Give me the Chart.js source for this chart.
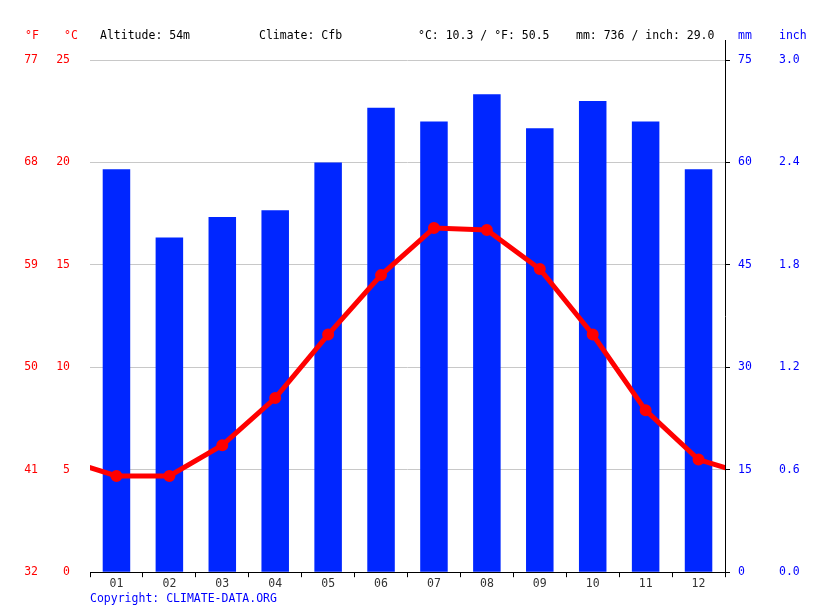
<!DOCTYPE html>
<html>
<head>
<meta charset="utf-8">
<script src="https://cdn.jsdelivr.net/npm/chart.js@4"></script>
<style>
  html, body { margin: 0; padding: 0; background: #fff; }
  #wrap { width: 815px; height: 611px; }
</style>
</head>
<body>
<div id="wrap"><canvas id="c" width="815" height="611"></canvas></div>
<script>
// Monthly climate values
const months = ['01', '02', '03', '04', '05', '06', '07', '08', '09', '10', '11', '12'];
const precipMm = [59, 49, 52, 53, 60, 68, 66, 70, 65, 69, 66, 59];
const tempC = [4.7, 4.7, 6.2, 8.5, 11.6, 14.5, 16.8, 16.7, 14.8, 11.6, 7.9, 5.5];

// Header texts
const headerItems = [
    { text: '°F', x: 25, color: '#ff0000' },
    { text: '°C', x: 64, color: '#ff0000' },
    { text: 'Altitude: 54m', x: 100, color: '#000' },
    { text: 'Climate: Cfb', x: 259, color: '#000' },
    { text: '°C: 10.3 / °F: 50.5', x: 418, color: '#000' },
    { text: 'mm: 736 / inch: 29.0', x: 576, color: '#000' },
    { text: 'mm', x: 738, color: '#0000ff' },
    { text: 'inch', x: 779, color: '#0000ff' },
];
const copyright = 'Copyright: CLIMATE-DATA.ORG';

const FONT = "'DejaVu Sans Mono', monospace";
const RED = '#ff0000';
const BLUE = '#0026ff';

// Line wraps around: December before January, January after December
const linePoints = [{ x: -0.5, y: tempC[11] }]
    .concat(tempC.map((v, i) => ({ x: i + 0.5, y: v })))
    .concat([{ x: 12.5, y: tempC[0] }]);

const headerPlugin = {
    id: 'header',
    afterDraw(chart) {
        const { ctx, chartArea } = chart;
        ctx.save();
        ctx.font = `11.5px ${FONT}`;
        ctx.textBaseline = 'middle';
        ctx.textAlign = 'left';
        headerItems.forEach(h => {
            ctx.fillStyle = h.color;
            ctx.fillText(h.text, h.x, 36);
        });
        ctx.fillStyle = '#0000ff';
        ctx.fillText(copyright, 90, 599);
        // right axis line runs up into the header
        ctx.strokeStyle = '#000';
        ctx.lineWidth = 1;
        ctx.beginPath();
        ctx.moveTo(Math.round(chartArea.right) + 0.5, 40);
        ctx.lineTo(Math.round(chartArea.right) + 0.5, chartArea.top);
        ctx.stroke();
        ctx.restore();
    }
};

const fixWidth = w => scale => { scale.width = w; };

new Chart(document.getElementById('c'), {
    data: {
        labels: months,
        datasets: [
            {
                type: 'line',
                data: linePoints,
                xAxisID: 'xl',
                yAxisID: 'yC',
                borderColor: RED,
                backgroundColor: RED,
                borderWidth: 5,
                pointRadius: linePoints.map((p, i) => (i === 0 || i === linePoints.length - 1) ? 0 : 3.5),
                pointHoverRadius: 3.5,
                tension: 0,
                clip: 0,
                order: 0,
            },
            {
                type: 'bar',
                data: precipMm,
                xAxisID: 'x',
                yAxisID: 'yMM',
                backgroundColor: BLUE,
                grouped: false,
                barPercentage: 0.52,
                categoryPercentage: 1,
                order: 1,
            },
        ],
    },
    options: {
        responsive: false,
        animation: false,
        layout: { padding: { top: 60, bottom: 20, left: 0, right: 0 } },
        plugins: { legend: { display: false }, tooltip: { enabled: false } },
        scales: {
            x: {
                type: 'category',
                offset: true,
                grid: { offset: true, drawOnChartArea: false, color: '#000', tickLength: 5 },
                border: { color: '#000' },
                ticks: { color: '#333', font: { family: FONT, size: 11.5 }, padding: 0, maxRotation: 0 },
            },
            xl: { type: 'linear', min: 0, max: 12, display: false },
            yC: {
                position: 'left', weight: 0,
                min: 0, max: 25,
                ticks: { stepSize: 5, color: RED, font: { family: FONT, size: 11.5 }, padding: 20 },
                grid: { color: '#c8c8c8', drawTicks: false },
                border: { display: false },
                afterFit: fixWidth(45),
            },
            yF: {
                position: 'left', weight: 1,
                min: 32, max: 77,
                ticks: { stepSize: 9, color: RED, font: { family: FONT, size: 11.5 }, padding: 7 },
                grid: { drawOnChartArea: false, drawTicks: false },
                border: { display: false },
                afterFit: fixWidth(45),
            },
            yMM: {
                position: 'right', weight: 0,
                min: 0, max: 75,
                ticks: { stepSize: 15, color: '#0000ff', font: { family: FONT, size: 11.5 }, padding: 8 },
                grid: { drawOnChartArea: false, color: '#000', tickLength: 5 },
                border: { color: '#000' },
                afterFit: fixWidth(45),
            },
            yIn: {
                position: 'right', weight: 1,
                min: 0, max: 3,
                ticks: { stepSize: 0.6, color: '#0000ff', font: { family: FONT, size: 11.5 }, padding: 9,
                         callback: v => v.toFixed(1) },
                grid: { drawOnChartArea: false, drawTicks: false },
                border: { display: false },
                afterFit: fixWidth(45),
            },
        },
    },
    plugins: [headerPlugin],
});
</script>
</body>
</html>
